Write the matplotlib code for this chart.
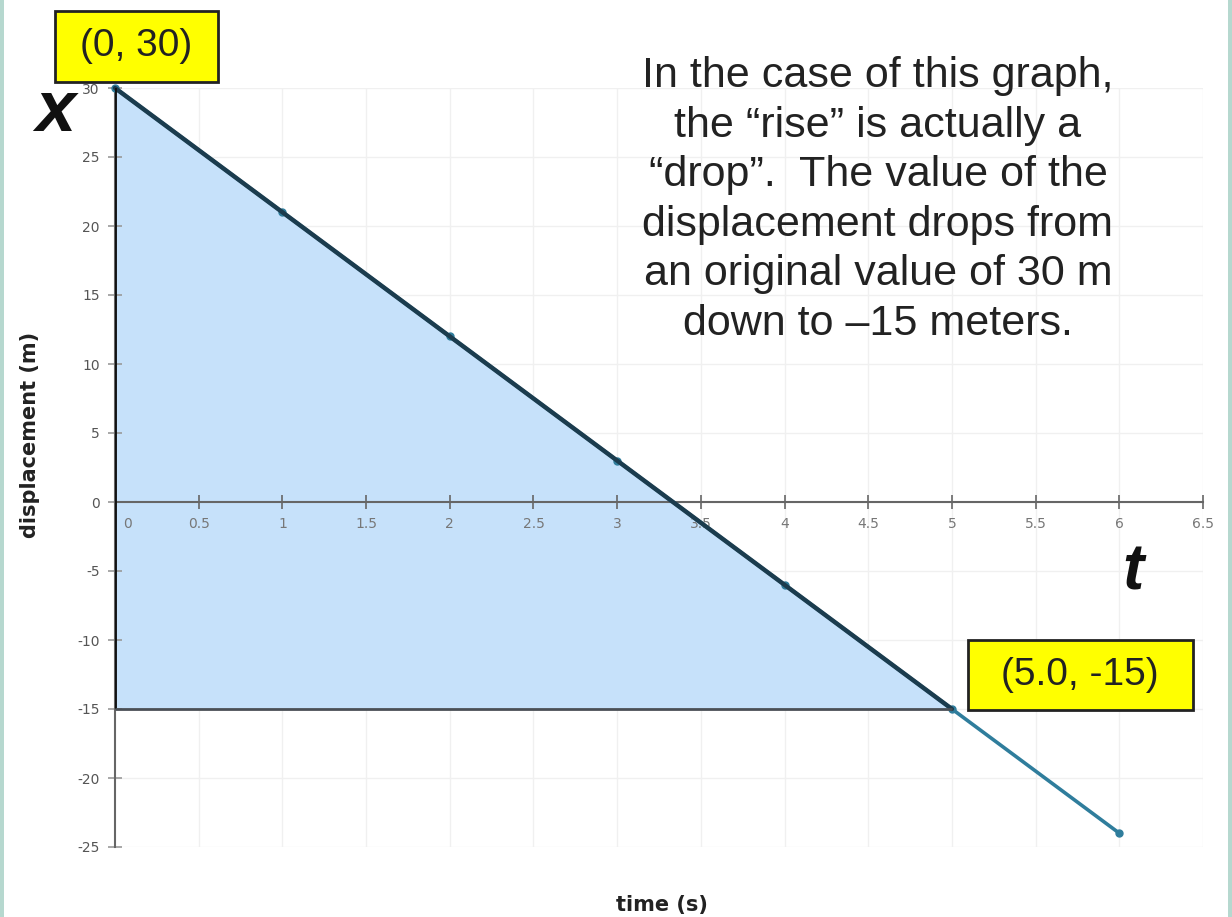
import matplotlib
matplotlib.use("Agg")
import matplotlib.pyplot as plt
import matplotlib.transforms as mtransforms
from matplotlib.patches import Rectangle

plt.rcParams["axes.unicode_minus"] = False

# data
time_s = [0, 1, 2, 3, 4, 5, 6]
disp_m = [30, 21, 12, 3, -6, -15, -24]
x_ticks = [0, 0.5, 1, 1.5, 2, 2.5, 3, 3.5, 4, 4.5, 5, 5.5, 6, 6.5]
x_tick_labels = ["0", "0.5", "1", "1.5", "2", "2.5", "3", "3.5", "4", "4.5", "5", "5.5", "6", "6.5"]
y_ticks = [-25, -20, -15, -10, -5, 0, 5, 10, 15, 20, 25, 30]
y_tick_labels = [str(v) for v in y_ticks]
start_label = "(0, 30)"
end_label = "(5.0, -15)"
note = ("In the case of this graph,\nthe \u201crise\u201d is actually a\n"
        "\u201cdrop\u201d.  The value of the\ndisplacement drops from\n"
        "an original value of 30 m\ndown to \u201315 meters.")

W, H = 1232, 917
fig = plt.figure(figsize=(W / 100, H / 100), dpi=100)
ax = fig.add_axes([115 / W, 1 - 847 / H, 1088 / W, (847 - 88) / H])

ax.set_xlim(0, 6.5)
ax.set_ylim(-25, 30)

# light grid
for xv in x_ticks[1:]:
    ax.axvline(xv, color="#f0f0f0", linewidth=1, zorder=0)
for yv in y_ticks:
    ax.axhline(yv, color="#f0f0f0", linewidth=1, zorder=0)

# shaded triangle under the first segment
end = disp_m.index(-15)
ax.fill_between(time_s[:end + 1], disp_m[:end + 1], disp_m[end],
                color="#c6e1fa", zorder=1, linewidth=0)

# full line with points
ax.plot(time_s, disp_m, color="#2f7d9c", linewidth=2.6, marker="o",
        markersize=5, zorder=3, clip_on=False)
# darker hypotenuse and triangle edges
ax.plot(time_s[:end + 1], disp_m[:end + 1], color="#1b3c4e", linewidth=3.2,
        zorder=4, clip_on=False, solid_capstyle="round")
ax.vlines(time_s[0], disp_m[end], disp_m[0], color="#111111", linewidth=2.8, zorder=4)
ax.hlines(disp_m[end], time_s[0], time_s[end], color="#4a4f55", linewidth=2, zorder=4)

# axes through origin
for side in ("top", "right"):
    ax.spines[side].set_visible(False)
ax.spines["bottom"].set_position(("data", 0))
ax.spines["bottom"].set_color("#666666")
ax.spines["bottom"].set_linewidth(1.5)
ax.spines["left"].set_color("#666666")
ax.spines["left"].set_linewidth(1.5)

ax.set_xticks(x_ticks)
ax.set_xticklabels(x_tick_labels)
ax.set_yticks(y_ticks)
ax.set_yticklabels(y_tick_labels)
ax.tick_params(axis="x", direction="inout", length=10, width=1.2, color="#666666",
               labelsize=10, labelcolor="#777777", pad=6)
ax.tick_params(axis="y", direction="inout", length=10, width=1.2, color="#999999",
               labelsize=10, labelcolor="#555555", pad=6)
first = ax.get_xticklabels()[0]
first.set_transform(first.get_transform() + mtransforms.ScaledTranslation(13 / 100, 0, fig.dpi_scale_trans))

# axis titles
fig.text(30 / W, 1 - 435 / H, "displacement (m)", rotation=90, ha="center", va="center",
         fontsize=15, fontweight="bold", color="#222222")
fig.text(662 / W, 1 - 905 / H, "time (s)", ha="center", va="center",
         fontsize=15, fontweight="bold", color="#222222")

# big variable letters
fig.text(55 / W, 1 - 112 / H, "x", ha="center", va="center", fontsize=52,
         fontweight="bold", fontstyle="italic", family="Liberation Sans", color="#111111")
fig.text(1133 / W, 1 - 572 / H, "t", ha="center", va="center", fontsize=46,
         fontweight="bold", fontstyle="italic", family="Liberation Sans", color="#111111")

# yellow labels
fig.patches.append(Rectangle((55 / W, 1 - 82 / H), 163 / W, 71 / H, transform=fig.transFigure,
                             facecolor="#ffff00", edgecolor="#222222", linewidth=2, zorder=5))
fig.text(136 / W, 1 - 46 / H, start_label, ha="center", va="center", fontsize=28,
         family="Liberation Sans", color="#222222", zorder=6)
fig.patches.append(Rectangle((968 / W, 1 - 710 / H), 225 / W, 70 / H, transform=fig.transFigure,
                             facecolor="#ffff00", edgecolor="#222222", linewidth=2, zorder=5))
fig.text(1080 / W, 1 - 675 / H, end_label, ha="center", va="center", fontsize=28,
         family="Liberation Sans", color="#222222", zorder=6)

# explanation
fig.text(878 / W, 1 - 200 / H, note, ha="center", va="center", fontsize=31,
         family="Liberation Sans", color="#222222", linespacing=1.31)

# slide edges
fig.patches.append(Rectangle((0, 0), 4 / W, 1, transform=fig.transFigure,
                             facecolor="#b6d8cf", edgecolor="none"))
fig.patches.append(Rectangle((1 - 4 / W, 0), 4 / W, 1, transform=fig.transFigure,
                             facecolor="#b6d8cf", edgecolor="none"))

fig.savefig("out.png", dpi=100)
